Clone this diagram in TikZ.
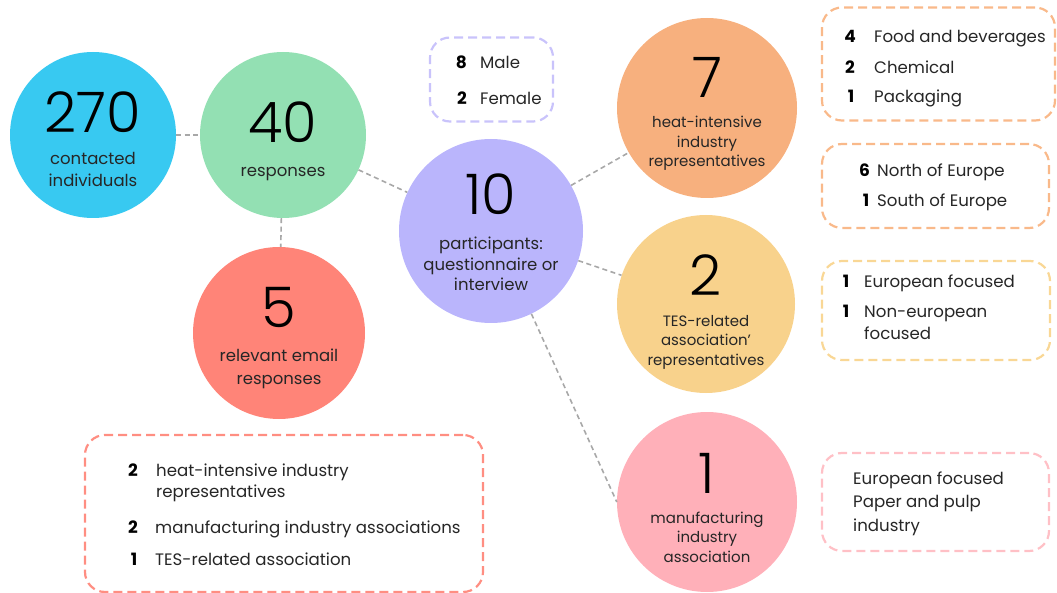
\documentclass[tikz,border=0pt]{standalone}
\usepackage{fontspec}
\setmainfont{Poppins}
\newfontfamily\bignum{Poppins Light}
\definecolor{c270}{HTML}{38C9F1}
\definecolor{c40}{HTML}{93E0B3}
\definecolor{c5}{HTML}{FF8478}
\definecolor{c10}{HTML}{BAB5FC}
\definecolor{c7}{HTML}{F7B07E}
\definecolor{c2}{HTML}{F8D28C}
\definecolor{c1}{HTML}{FFB0B9}
\definecolor{linkgray}{HTML}{A8A8A8}
\definecolor{ink}{HTML}{262626}
\definecolor{fLav}{HTML}{C9C3FB}
\definecolor{fOra}{HTML}{F9B98A}
\definecolor{fYel}{HTML}{F9D795}
\definecolor{fPnk}{HTML}{FFC0C6}
\definecolor{fRed}{HTML}{FF8E82}
\begin{document}
\begin{tikzpicture}[x=1pt,y=-1pt,
  bubble/.style={circle, inner sep=0pt, minimum size=#1},
  conn/.style={draw=linkgray, line width=1.6pt, dash pattern=on 5pt off 3.5pt},
  frame/.style={draw=#1, line width=2.2pt, dash pattern=on 9pt off 5pt, rounded corners=20pt, inner sep=0pt},
  num/.style={font=\bignum\fontsize{56}{56}\selectfont, text=black, inner sep=0pt, anchor=base},
  biglbl/.style={font=\fontsize{16.5}{22}\selectfont, text=ink, align=center, inner sep=0pt, anchor=base},
  smalllbl/.style={font=\fontsize{15}{19.5}\selectfont, text=ink, align=center, inner sep=0pt, anchor=base},
  digit/.style={font=\bfseries\fontsize{17}{17}\selectfont, text=black, inner sep=0pt, anchor=base},
  item/.style={font=\fontsize{16.6}{22}\selectfont, text=ink, inner sep=0pt, anchor=base west, align=left},
]
\useasboundingbox (0,0) rectangle (1057,593);

% bubbles
\node[bubble=166pt, fill=c270] (b270) at (93,135) {};
\node[bubble=166pt, fill=c40]  (b40)  at (283,135) {};
\node[bubble=172pt, fill=c5]   (b5)   at (279,333) {};
\node[bubble=184pt, fill=c10]  (b10)  at (491,231) {};
\node[bubble=180pt, fill=c7]   (b7)   at (707,108) {};
\node[bubble=178pt, fill=c2]   (b2)   at (706,304) {};
\node[bubble=180pt, fill=c1]   (b1)   at (707,502) {};

% dashed links between bubbles
\draw[conn] (b270) -- (b40);
\draw[conn] (b40) -- (b5);
\draw[conn] (b40) -- (b10);
\draw[conn] (b10) -- (b7);
\draw[conn] (b10) -- (b2);
\draw[conn] (b10.-64) -- (b1.west);

% bubble texts (a multi-line node sits on the baseline of its last line)
\node[num] (n270) at (93,133) {270};
\node[biglbl] (l270) at (93,187) {contacted\\individuals};
\node[num] (n40) at (283,143) {40};
\node[biglbl] (l40) at (283,177) {responses};
\node[num] (n5) at (279,328) {5};
\node[biglbl] (l5) at (279,384) {relevant email\\responses};
\node[num] (n10) at (491,215) {10};
\node[biglbl, font=\fontsize{16.5}{20.5}\selectfont] (l10) at (491,291) {participants:\\questionnaire or\\interview};
\node[num] (n7) at (707,98) {7};
\node[smalllbl] (l7) at (707,167) {heat-intensive\\industry\\representatives};
\node[num] (n2) at (706,296) {2};
\node[smalllbl] (l2) at (706,365) {TES-related\\association'\\representatives};
\node[num] (n1) at (707,493) {1};
\node[smalllbl] (l1) at (707,562) {manufacturing\\industry\\association};

% dashed frames with their counts
\node[frame=fLav, minimum width=123pt, minimum height=84pt] (gender) at (491.5,79.5) {};
\node[digit] (d8) at (461.5,69) {8};
\node[item] (tm) at (480,69) {Male};
\node[digit] (d2f) at (462,105) {2};
\node[item] (tf) at (480,105) {Female};

\node[frame=fOra, minimum width=233pt, minimum height=113pt] (sector) at (938.5,64) {};
\node[digit] (d4) at (850,43) {4};
\node[item] (t4) at (874,43) {Food and beverages};
\node[digit] (d2c) at (850,74) {2};
\node[item] (t2c) at (874,74) {Chemical};
\node[digit] (d1p) at (851,103) {1};
\node[item] (t1p) at (874,103) {Packaging};

\node[frame=fOra, minimum width=227pt, minimum height=84pt] (region) at (935.5,186) {};
\node[digit] (d6) at (864.5,177) {6};
\node[item] (t6) at (877,177) {North of Europe};
\node[digit] (d1s) at (866,207) {1};
\node[item] (t1s) at (877,207) {South of Europe};

\node[frame=fYel, minimum width=228pt, minimum height=99pt] (scope) at (936,310.5) {};
\node[digit] (d1e) at (846,288) {1};
\node[item] (t1e) at (864,288) {European focused};
\node[digit] (d1n) at (846,318) {1};
\node[item] (t1n) at (864,340) {Non-european\\focused};

\node[frame=fPnk, minimum width=227pt, minimum height=98pt] (paper) at (935.5,502) {};
\node[item, font=\fontsize{16.6}{23.5}\selectfont] (tpp) at (853,531) {European focused\\Paper and pulp\\industry};

\node[frame=fRed, minimum width=398pt, minimum height=157pt] (email) at (284,513.5) {};
\node[digit] (e2a) at (133,476) {2};
\node[item, font=\fontsize{16.6}{21}\selectfont] (et2a) at (156,497) {heat-intensive industry\\representatives};
\node[digit] (e2b) at (133,533) {2};
\node[item] (et2b) at (155,533) {manufacturing industry associations};
\node[digit] (e1) at (134,565) {1};
\node[item] (et1) at (155,565) {TES-related association};
\end{tikzpicture}
\end{document}
